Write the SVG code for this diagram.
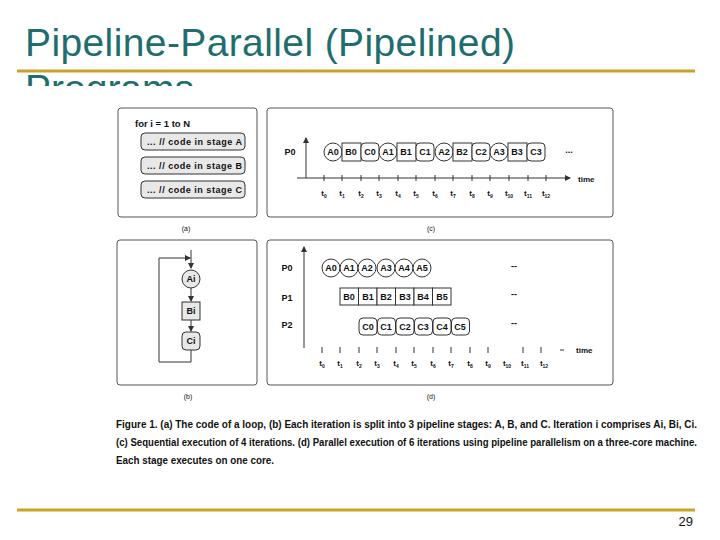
<svg xmlns="http://www.w3.org/2000/svg" width="720" height="540" viewBox="0 0 720 540">
<defs>
<style>
text{font-family:"Liberation Sans",Arial,sans-serif;fill:#111}
.t{font-size:39px;fill:#1f6e6e}
.p{fill:none;stroke:#555;stroke-width:1}
.c{fill:#fff;stroke:#333;stroke-width:1}
.g{fill:#e8e8e8;stroke:#333;stroke-width:1}
.l{font-size:9px;font-weight:bold;text-anchor:middle}
.cap{font-size:10px;font-weight:bold}
.ax{stroke:#333;stroke-width:1;fill:none}
</style>
<marker id="ar" markerWidth="6" markerHeight="6" refX="5" refY="3" orient="auto"><path d="M0,0L6,3L0,6z" fill="#333"/></marker>
</defs>
<rect width="720" height="540" fill="#fff"/>
<text class="t" x="25" y="56" textLength="490">Pipeline-Parallel (Pipelined)</text>
<text class="t" x="25" y="102">Programs</text>
<rect x="0" y="86" width="720" height="420" fill="#fff"/>
<line x1="17" y1="71" x2="695" y2="71" stroke="#c9a227" stroke-width="3"/>
<line x1="17" y1="510" x2="695" y2="510" stroke="#c9a227" stroke-width="3"/>
<text x="693" y="526" font-size="13" text-anchor="end">29</text>

<g id="panel-a">
<rect class="p" x="118" y="108" width="139" height="109" rx="3"/>
<text x="135" y="127" font-size="9.5" font-weight="bold">for i = 1 to N</text>
<rect class="g" x="141" y="133" width="104" height="17" rx="4"/>
<rect class="g" x="141" y="157" width="104" height="17" rx="4"/>
<rect class="g" x="141" y="181" width="104" height="17" rx="4"/>
<text x="147" y="145" font-size="9" font-weight="bold" textLength="95">... // code in stage A</text>
<text x="147" y="169" font-size="9" font-weight="bold" textLength="95">... // code in stage B</text>
<text x="147" y="193" font-size="9" font-weight="bold" textLength="95">... // code in stage C</text>
<text x="186" y="231" font-size="7" text-anchor="middle">(a)</text>
</g>

<g id="panel-c">
<rect class="p" x="267" y="108" width="346" height="109" rx="3"/>
<text class="l" x="290" y="155">P0</text>
<line class="ax" x1="306" y1="178" x2="306" y2="138" marker-end="url(#ar)"/>
<line class="ax" x1="297" y1="178" x2="570" y2="178" marker-end="url(#ar)"/>
<text x="578" y="182" font-size="8" font-weight="bold">time</text>
<g class="ax">
<path d="M324,175v6M342,175v6M361,175v6M379,175v6M398,175v6M416,175v6M435,175v6M453,175v6M472,175v6M490,175v6M509,175v6M528,175v6M546,175v6"/>
</g>
<g font-size="8" font-weight="bold" text-anchor="middle">
<text x="324" y="196">t<tspan font-size="5" dy="2">0</tspan></text>
<text x="342" y="196">t<tspan font-size="5" dy="2">1</tspan></text>
<text x="361" y="196">t<tspan font-size="5" dy="2">2</tspan></text>
<text x="379" y="196">t<tspan font-size="5" dy="2">3</tspan></text>
<text x="398" y="196">t<tspan font-size="5" dy="2">4</tspan></text>
<text x="416" y="196">t<tspan font-size="5" dy="2">5</tspan></text>
<text x="435" y="196">t<tspan font-size="5" dy="2">6</tspan></text>
<text x="453" y="196">t<tspan font-size="5" dy="2">7</tspan></text>
<text x="472" y="196">t<tspan font-size="5" dy="2">8</tspan></text>
<text x="490" y="196">t<tspan font-size="5" dy="2">9</tspan></text>
<text x="509" y="196">t<tspan font-size="5" dy="2">10</tspan></text>
<text x="528" y="196">t<tspan font-size="5" dy="2">11</tspan></text>
<text x="546" y="196">t<tspan font-size="5" dy="2">12</tspan></text>
</g>
<circle class="c" cx="333" cy="152" r="9"/>
<rect class="c" x="342" y="143" width="19" height="18"/>
<rect class="c" x="361" y="143" width="18" height="18" rx="4"/>
<circle class="c" cx="388" cy="152" r="9"/>
<rect class="c" x="397" y="143" width="19" height="18"/>
<rect class="c" x="416" y="143" width="18" height="18" rx="4"/>
<circle class="c" cx="444" cy="152" r="9"/>
<rect class="c" x="453" y="143" width="19" height="18"/>
<rect class="c" x="472" y="143" width="18" height="18" rx="4"/>
<circle class="c" cx="499" cy="152" r="9"/>
<rect class="c" x="508" y="143" width="19" height="18"/>
<rect class="c" x="527" y="143" width="18" height="18" rx="4"/>
<g class="l">
<text x="333" y="155">A0</text><text x="351" y="155">B0</text><text x="370" y="155">C0</text>
<text x="388" y="155">A1</text><text x="406" y="155">B1</text><text x="425" y="155">C1</text>
<text x="444" y="155">A2</text><text x="462" y="155">B2</text><text x="481" y="155">C2</text>
<text x="499" y="155">A3</text><text x="517" y="155">B3</text><text x="536" y="155">C3</text>
<text x="569" y="153">...</text>
</g>
<text x="431" y="231" font-size="7" text-anchor="middle">(c)</text>
</g>

<g id="panel-b">
<rect class="p" x="117" y="240" width="140" height="145" rx="3"/>
<circle class="g" cx="191" cy="279" r="9"/>
<rect class="g" x="182" y="302" width="18" height="18"/>
<rect class="g" x="182" y="332" width="18" height="18" rx="4"/>
<text class="l" x="191" y="282">Ai</text>
<text class="l" x="191" y="314">Bi</text>
<text class="l" x="191" y="344">Ci</text>
<text x="188" y="399" font-size="7" text-anchor="middle">(b)</text>
</g>

<g id="panel-d">
<rect class="p" x="267" y="240" width="346" height="145" rx="3"/>
<text class="l" x="287" y="271">P0</text>
<text class="l" x="287" y="301">P1</text>
<text class="l" x="287" y="328">P2</text>
<line class="ax" x1="304" y1="348" x2="304" y2="247" marker-end="url(#ar)"/>
<g class="ax"><path d="M322,347v6M340,347v6M359,347v6M377,347v6M396,347v6M414,347v6M433,347v6M451,347v6M470,347v6M488,347v6M523,347v6M541,347v6M560,350h4"/></g>
<text x="576" y="353" font-size="8" font-weight="bold">time</text>
<g font-size="8" font-weight="bold" text-anchor="middle">
<text x="322" y="366">t<tspan font-size="5" dy="2">0</tspan></text>
<text x="340" y="366">t<tspan font-size="5" dy="2">1</tspan></text>
<text x="359" y="366">t<tspan font-size="5" dy="2">2</tspan></text>
<text x="377" y="366">t<tspan font-size="5" dy="2">3</tspan></text>
<text x="396" y="366">t<tspan font-size="5" dy="2">4</tspan></text>
<text x="414" y="366">t<tspan font-size="5" dy="2">5</tspan></text>
<text x="433" y="366">t<tspan font-size="5" dy="2">6</tspan></text>
<text x="451" y="366">t<tspan font-size="5" dy="2">7</tspan></text>
<text x="470" y="366">t<tspan font-size="5" dy="2">8</tspan></text>
<text x="488" y="366">t<tspan font-size="5" dy="2">9</tspan></text>
<text x="507" y="366">t<tspan font-size="5" dy="2">10</tspan></text>
<text x="525" y="366">t<tspan font-size="5" dy="2">11</tspan></text>
<text x="544" y="366">t<tspan font-size="5" dy="2">12</tspan></text>
</g>
<circle class="c" cx="331" cy="268" r="9"/><circle class="c" cx="349" cy="268" r="9"/><circle class="c" cx="367" cy="268" r="9"/>
<circle class="c" cx="386" cy="268" r="9"/><circle class="c" cx="404" cy="268" r="9"/><circle class="c" cx="422" cy="268" r="9"/>
<rect class="c" x="340" y="288" width="18.5" height="17"/><rect class="c" x="358.5" y="288" width="18.5" height="17"/><rect class="c" x="377" y="288" width="18.5" height="17"/>
<rect class="c" x="395.5" y="288" width="18.5" height="17"/><rect class="c" x="414" y="288" width="18.5" height="17"/><rect class="c" x="432.5" y="288" width="18.5" height="17"/>
<rect class="c" x="359" y="318" width="18" height="17" rx="4"/><rect class="c" x="377.5" y="318" width="18" height="17" rx="4"/><rect class="c" x="396" y="318" width="18" height="17" rx="4"/>
<rect class="c" x="414.5" y="318" width="18" height="17" rx="4"/><rect class="c" x="433" y="318" width="18" height="17" rx="4"/><rect class="c" x="451.5" y="318" width="18" height="17" rx="4"/>
<g class="l">
<text x="331" y="271">A0</text><text x="349" y="271">A1</text><text x="367" y="271">A2</text><text x="386" y="271">A3</text><text x="404" y="271">A4</text><text x="422" y="271">A5</text>
<text x="349" y="300">B0</text><text x="368" y="300">B1</text><text x="386" y="300">B2</text><text x="405" y="300">B3</text><text x="423" y="300">B4</text><text x="442" y="300">B5</text>
<text x="368" y="330">C0</text><text x="386" y="330">C1</text><text x="405" y="330">C2</text><text x="423" y="330">C3</text><text x="442" y="330">C4</text><text x="460" y="330">C5</text>
<text x="514" y="269">--</text><text x="514" y="297">--</text><text x="514" y="326">--</text>
</g>
<text x="431" y="399" font-size="7" text-anchor="middle">(d)</text>
</g>

<g id="connectors" class="ax" stroke="#555">
<path d="M191,250V268" marker-end="url(#ar)"/>
<path d="M191,288V301" marker-end="url(#ar)"/>
<path d="M191,320V331" marker-end="url(#ar)"/>
<path d="M191,350V362H159V258H190" marker-end="url(#ar)"/>
</g>

<g id="caption" class="cap">
<text x="116" y="428" textLength="581" lengthAdjust="spacingAndGlyphs">Figure 1. (a) The code of a loop, (b) Each iteration is split into 3 pipeline stages: A, B, and C. Iteration i comprises Ai, Bi, Ci.</text>
<text x="116" y="446" textLength="581" lengthAdjust="spacingAndGlyphs">(c) Sequential execution of 4 iterations. (d) Parallel execution of 6 iterations using pipeline parallelism on a three-core machine.</text>
<text x="116" y="464" textLength="158" lengthAdjust="spacingAndGlyphs">Each stage executes on one core.</text>
</g>
</svg>
